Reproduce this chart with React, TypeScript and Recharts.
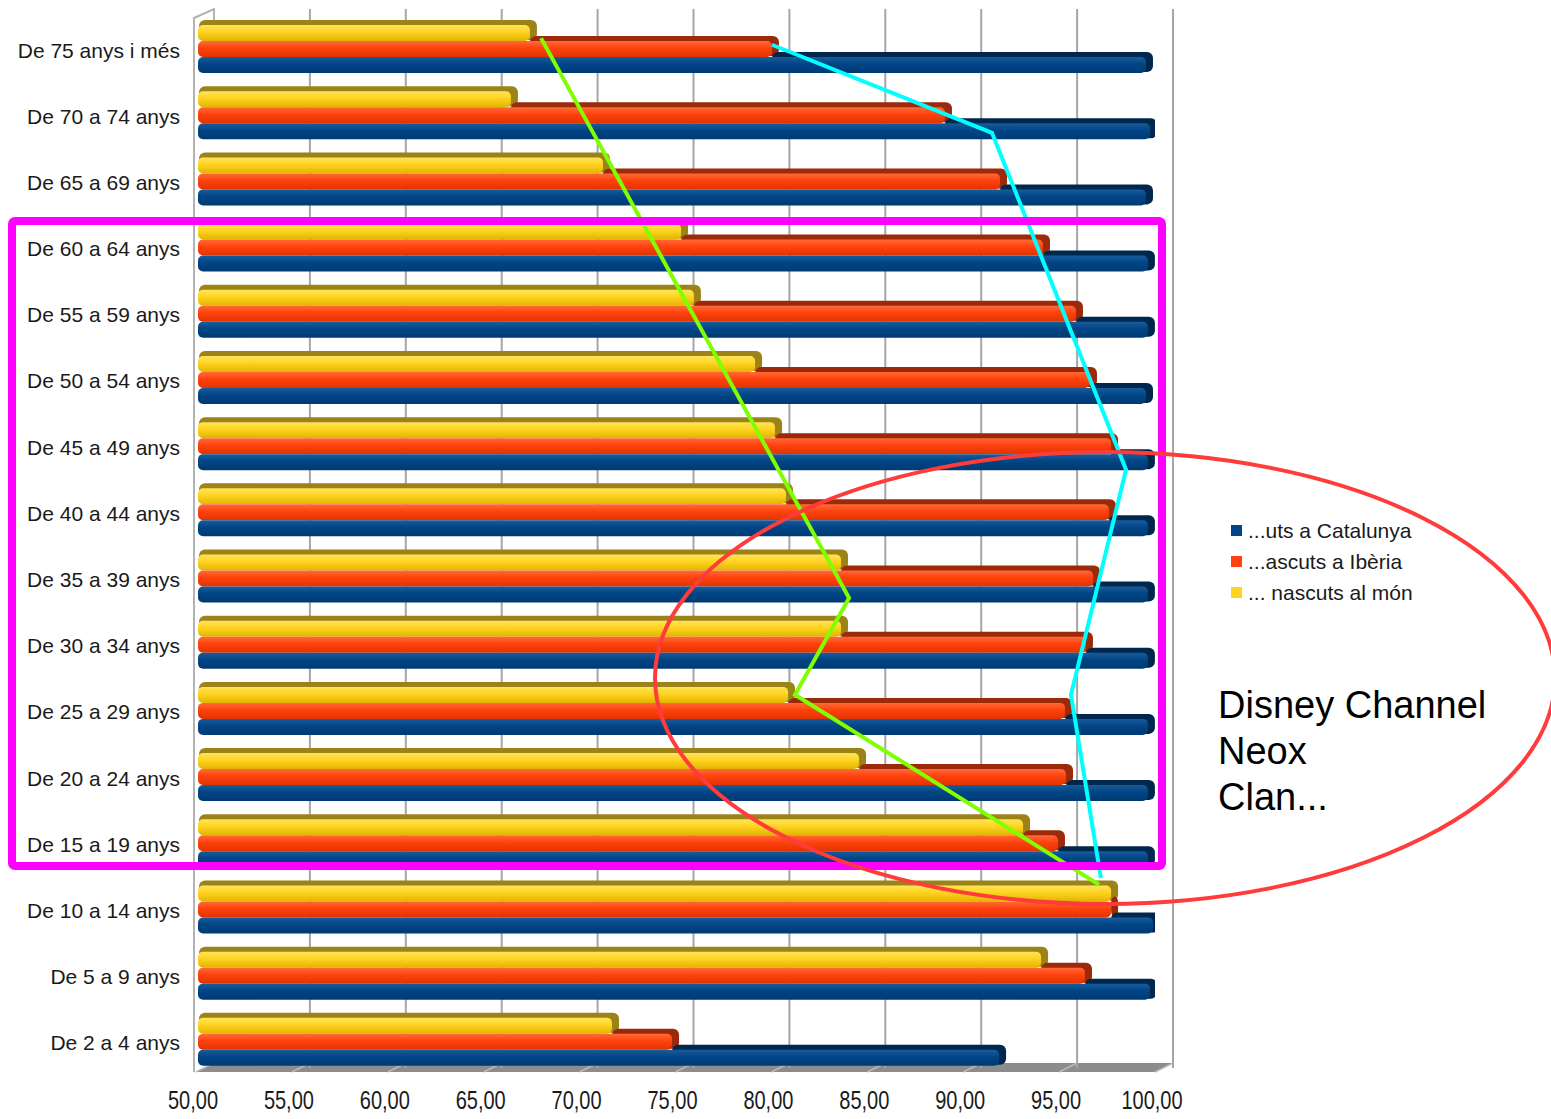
import { ComposedChart, Bar, Line, XAxis, YAxis, CartesianGrid, Legend } from 'recharts'

// categories, top to bottom
const AGE_GROUPS = [
    'De 75 anys i més',
    'De 70 a 74 anys',
    'De 65 a 69 anys',
    'De 60 a 64 anys',
    'De 55 a 59 anys',
    'De 50 a 54 anys',
    'De 45 a 49 anys',
    'De 40 a 44 anys',
    'De 35 a 39 anys',
    'De 30 a 34 anys',
    'De 25 a 29 anys',
    'De 20 a 24 anys',
    'De 15 a 19 anys',
    'De 10 a 14 anys',
    'De 5 a 9 anys',
    'De 2 a 4 anys',
]

const NASCUTS_CATALUNYA = [99.53, 99.74, 99.53, 99.63, 99.63, 99.53, 99.63, 99.63, 99.63, 99.63, 99.63, 99.63, 99.63, 99.9, 99.74, 91.87]
const NASCUTS_IBERIA = [80.03, 89.05, 91.92, 94.16, 95.88, 96.61, 97.71, 97.6, 96.77, 96.4, 95.31, 95.36, 94.94, 97.71, 96.35, 74.82]
const NASCUTS_MON = [67.41, 66.42, 71.22, 75.29, 75.96, 79.15, 80.19, 80.76, 83.63, 83.63, 80.87, 84.57, 93.12, 97.71, 94.06, 71.69]

const SERIES_NAMES = ['...uts a Catalunya', '...ascuts a Ibèria', '... nascuts al món']

const X_DOMAIN = [50, 100]
const X_TICKS = [50, 55, 60, 65, 70, 75, 80, 85, 90, 95, 100]

// hand drawn annotation lines: value on the x axis, position in category rows (0 = top)
const GREEN_VALUES = [67.99, 84.05, 81.23, 97.08]
const GREEN_ROWS = [0.41, 8.87, 10.33, 13.2]
const CYAN_VALUES = [80.03, 91.5, 98.49, 95.62, 97.18]
const CYAN_ROWS = [0.51, 1.84, 6.93, 10.33, 13.1]

const NOTE_LINES = ['Disney Channel', 'Neox', 'Clan...']

const data = AGE_GROUPS.map((age, i) => ({
    age,
    cat: NASCUTS_CATALUNYA[i],
    ib: NASCUTS_IBERIA[i],
    mon: NASCUTS_MON[i],
}))
const greenData = GREEN_VALUES.map((v, i) => ({ v, pos: GREEN_ROWS[i] }))
const cyanData = CYAN_VALUES.map((v, i) => ({ v, pos: CYAN_ROWS[i] }))

// layout
const W = 1551
const H = 1119
const M_TOP = 11
const M_RIGHT = 396
const Y_AXIS_W = 196
const X_AXIS_H = 49
const PLOT_LEFT = Y_AXIS_W
const PLOT_RIGHT = W - M_RIGHT
const PLOT_BOTTOM = H - X_AXIS_H
const DEPTH_X = 18
const DEPTH_Y = 9

const CAP = 7
const STRIP = 5

type Look = { face: string; light: string; shade: string; dark: string }
const LOOKS: Record<string, Look> = {
    mon: { face: '#ffd320', light: '#ffe45a', shade: '#e0b400', dark: '#9c8317' },
    ib: { face: '#ff420e', light: '#ff6a36', shade: '#e03400', dark: '#9c2a0a' },
    cat: { face: '#004586', light: '#1a5c9c', shade: '#003a72', dark: '#00284f' },
}

const fmt = (v: number) => v.toFixed(2).replace('.', ',')

// fake 3D bar: dark back plate + shaded face; the back plate starts where the bar above ends
function makeShape(key: string, prevKey: string | null) {
    const look = LOOKS[key]
    return (props: any) => {
        const { x, y, width, height, payload } = props
        if (!width || width <= 0) return null
        const perUnit = width / (payload[key] - X_DOMAIN[0])
        let backStart = x + 3
        if (prevKey) {
            backStart = Math.max(backStart, x + (payload[prevKey] - X_DOMAIN[0]) * perUnit)
        }
        const backW = x + width + CAP - backStart
        return (
            <g>
                {backW > 0 && (
                    <rect x={backStart} y={y} width={backW} height={height - 1 + STRIP} rx={6} fill={look.dark} />
                )}
                <rect x={x + 2} y={y + STRIP} width={width - 2} height={height} rx={5} fill={`url(#face-${key})`} />
            </g>
        )
    }
}

// narrow-looking tick labels (no condensed font installed, so stretch vertically)
function XTick({ x, y, payload }: any) {
    return (
        <g transform={`translate(${x - 3},${y})`}>
            <text textAnchor="middle" fontSize={20} fill="#1a1a1a" transform="scale(1,1.25)" dy="0.71em">
                {fmt(payload.value)}
            </text>
        </g>
    )
}

function LegendBox(props: any) {
    const items = (props.payload || []).filter((it: any) => SERIES_NAMES.includes(it.value)).reverse()
    return (
        <div style={{ fontSize: 21, color: '#1a1a1a', lineHeight: '31px' }}>
            {items.map((it: any) => (
                <div key={it.value} style={{ display: 'flex', alignItems: 'center' }}>
                    <span style={{ width: 11, height: 11, background: it.color, marginRight: 6, display: 'inline-block' }} />
                    <span>{it.value}</span>
                </div>
            ))}
        </div>
    )
}

const css = `
body { margin: 0; }
.recharts-cartesian-grid-vertical line { transform: translate(${DEPTH_X}px, -2px); }
.recharts-cartesian-grid-vertical line:first-child { display: none; }
`

export default function App() {
    const floorY = PLOT_BOTTOM + 2
    const xPos = (t: number) => PLOT_LEFT + ((t - X_DOMAIN[0]) / (X_DOMAIN[1] - X_DOMAIN[0])) * (PLOT_RIGHT - PLOT_LEFT)

    return (
        <div style={{ position: 'relative', width: W, height: H, fontFamily: '"Liberation Sans", Arial, sans-serif', background: '#fff' }}>
            <style>{css}</style>

            {/* walls and floor of the 3D frame */}
            <svg width={W} height={H} style={{ position: 'absolute', left: 0, top: 0 }}>
                <polygon
                    points={`${PLOT_LEFT},${floorY} ${PLOT_RIGHT},${floorY} ${PLOT_RIGHT + DEPTH_X},${floorY - DEPTH_Y} ${PLOT_LEFT + DEPTH_X},${floorY - DEPTH_Y}`}
                    fill="#8c8c8c"
                />
                {X_TICKS.map((t) => (
                    <line key={t} x1={xPos(t)} y1={floorY} x2={xPos(t) + DEPTH_X} y2={floorY - DEPTH_Y} stroke="#b8b8b8" strokeWidth={1.5} />
                ))}
                <polyline
                    points={`${PLOT_LEFT - 2},${floorY} ${PLOT_LEFT - 2},${M_TOP + 7} ${PLOT_LEFT + DEPTH_X},${M_TOP - 2} ${PLOT_LEFT + DEPTH_X},${M_TOP + 11}`}
                    fill="none"
                    stroke="#b3b3b3"
                    strokeWidth={2}
                />
            </svg>

            <div style={{ position: 'absolute', left: 0, top: 0 }}>
                <ComposedChart
                    width={W}
                    height={H}
                    data={data}
                    layout="vertical"
                    margin={{ top: M_TOP, right: M_RIGHT, bottom: 0, left: 0 }}
                    barGap={0}
                    barSize={16}
                >
                    <defs>
                        {Object.entries(LOOKS).map(([k, l]) => (
                            <linearGradient key={k} id={`face-${k}`} x1="0" y1="0" x2="0" y2="1">
                                <stop offset="0" stopColor={l.light} />
                                <stop offset="0.45" stopColor={l.face} />
                                <stop offset="1" stopColor={l.shade} />
                            </linearGradient>
                        ))}
                    </defs>
                    <CartesianGrid horizontal={false} stroke="#a6a6a6" strokeWidth={2} />
                    <XAxis
                        type="number"
                        domain={X_DOMAIN}
                        ticks={X_TICKS}
                        allowDataOverflow
                        height={X_AXIS_H}
                        axisLine={false}
                        tickLine={false}
                        tickMargin={15}
                        tick={<XTick />}
                        interval={0}
                    />
                    <YAxis
                        type="category"
                        dataKey="age"
                        width={Y_AXIS_W}
                        axisLine={false}
                        tickLine={false}
                        tickMargin={10}
                        interval={0}
                        tick={{ fontSize: 21, fill: '#1a1a1a', dy: 6 }}
                    />
                    <YAxis yAxisId="pos" type="number" dataKey="pos" domain={[0, AGE_GROUPS.length]} hide allowDataOverflow />

                    <Bar dataKey="mon" name={SERIES_NAMES[2]} fill={LOOKS.mon.face} shape={makeShape('mon', null)} isAnimationActive={false} />
                    <Bar dataKey="ib" name={SERIES_NAMES[1]} fill={LOOKS.ib.face} shape={makeShape('ib', 'mon')} isAnimationActive={false} />
                    <Bar dataKey="cat" name={SERIES_NAMES[0]} fill={LOOKS.cat.face} shape={makeShape('cat', 'ib')} isAnimationActive={false} />

                    <Line data={greenData} yAxisId="pos" dataKey="v" stroke="#7fff00" strokeWidth={4} dot={false} legendType="none" isAnimationActive={false} />
                    <Line data={cyanData} yAxisId="pos" dataKey="v" stroke="#00ffff" strokeWidth={4} dot={false} legendType="none" isAnimationActive={false} />

                    <Legend
                        layout="vertical"
                        align="center"
                        verticalAlign="middle"
                        content={<LegendBox />}
                        wrapperStyle={{ left: 1231, top: 515, width: 'auto' }}
                    />
                </ComposedChart>
            </div>

            {/* annotations */}
            <svg width={W} height={H} style={{ position: 'absolute', left: 0, top: 0, pointerEvents: 'none' }}>
                <rect x={12} y={221} width={1150} height={645} rx={3} fill="none" stroke="#ff00ff" strokeWidth={8} />
                <ellipse cx={1105} cy={678} rx={450} ry={226} fill="none" stroke="#ff3b3b" strokeWidth={4} />
            </svg>
            <div style={{ position: 'absolute', left: 1218, top: 682, fontSize: 38, lineHeight: '46px', color: '#000' }}>
                {NOTE_LINES.map((l) => (
                    <div key={l}>{l}</div>
                ))}
            </div>
        </div>
    )
}
